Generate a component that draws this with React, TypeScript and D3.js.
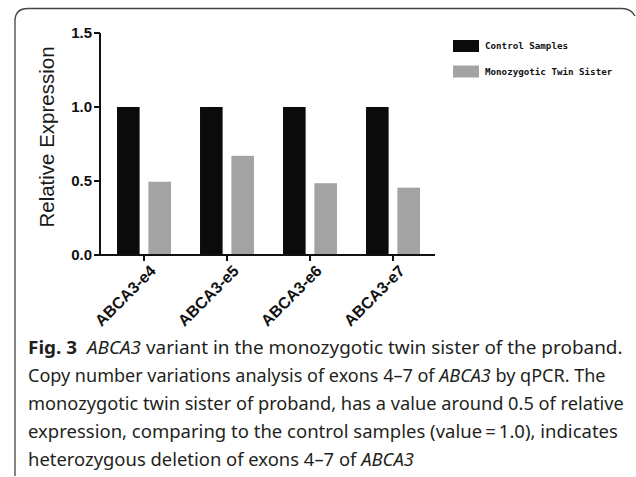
import React, { useLayoutEffect, useRef, useState } from "react";
import * as d3 from "d3";

const categories = ["ABCA3-e4", "ABCA3-e5", "ABCA3-e6", "ABCA3-e7"];
const seriesNames = ["Control Samples", "Monozygotic Twin Sister"];
const controlValues = [1.0, 1.0, 1.0, 1.0];
const twinValues = [0.495, 0.67, 0.485, 0.455];
const yTicks = [0.0, 0.5, 1.0, 1.5];
const colors = ["#0b0b0b", "#a3a3a3"];

const captionLines: { t: string; i?: boolean; b?: boolean }[][] = [
  [{ t: "Fig. 3", b: true }, { t: "  " }, { t: "ABCA3", i: true }, { t: " variant in the monozygotic twin sister of the proband." }],
  [{ t: "Copy number variations analysis of exons 4–7 of " }, { t: "ABCA3", i: true }, { t: " by qPCR. The" }],
  [{ t: "monozygotic twin sister of proband, has a value around 0.5 of relative" }],
  [{ t: "expression, comparing to the control samples (value\u2009=\u20091.0), indicates" }],
  [{ t: "heterozygous deletion of exons 4–7 of " }, { t: "ABCA3", i: true }],
];
const captionWidths = [595, 578, 596, 590, 0];

function Caption() {
  const refs = useRef<(SVGTextElement | null)[]>([]);
  const [scales, setScales] = useState<number[]>(captionLines.map(() => 1));
  useLayoutEffect(() => {
    const s = captionLines.map((_, k) => {
      const el = refs.current[k];
      if (!el || !captionWidths[k]) return 0;
      const w = el.getComputedTextLength();
      return w > 0 ? captionWidths[k] / w : 1;
    });
    const known = s.filter((v) => v > 0);
    const mean = known.length ? d3.mean(known) as number : 1;
    setScales(s.map((v) => (v > 0 ? v : mean)));
  }, []);
  return (
    <g>
      {captionLines.map((line, k) => (
        <g key={k} transform={`translate(28,${354 + k * 28}) scale(${scales[k]},1)`}>
          <text ref={(el) => { refs.current[k] = el; }} x={0} y={0} fontFamily="Noto Sans, Open Sans, sans-serif" fontSize={18.5} fill="#231f20" style={{ whiteSpace: "pre" }}>
            {line.map((seg, m) => (
              <tspan key={m} fontStyle={seg.i ? "italic" : "normal"} fontWeight={seg.b ? "bold" : "normal"}>
                {seg.t}
              </tspan>
            ))}
          </text>
        </g>
      ))}
    </g>
  );
}

export default function App() {
  const W = 636, H = 477;
  const x0 = d3.scaleBand<string>().domain(categories).range([102.5, 434.5]).paddingInner(0.35).paddingOuter(0.175);
  const x1 = d3.scaleBand<string>().domain(["c", "t"]).range([0, x0.bandwidth()]).paddingInner(0.28);
  const y = d3.scaleLinear().domain([0, 1.5]).range([255, 33]);
  const axisX = 100;
  const axisEnd = 435;
  const series = [controlValues, twinValues];

  return (
    <svg width={W} height={H} style={{ position: "absolute", left: 0, top: 0, background: "#fff" }}>
      <rect width={W} height={H} fill="#fff" />
      {/* frame */}
      <path d="M15,476 L15,21 Q15,8.5 28,8.5 L622,8.5 Q631,8.5 635,16" fill="none" stroke="#444" strokeWidth={1.3} />
      {/* bars */}
      {categories.map((c, i) => (
        <g key={c} transform={`translate(${x0(c)},0)`}>
          {series.map((s, j) => (
            <rect key={j} x={x1(j === 0 ? "c" : "t")} y={y(s[i])} width={x1.bandwidth()} height={y(0) - y(s[i])} fill={colors[j]} />
          ))}
        </g>
      ))}
      {/* y axis */}
      <line x1={axisX} x2={axisX} y1={y(1.5)} y2={y(0) + 1} stroke="#111" strokeWidth={2} />
      {yTicks.map((t) => (
        <g key={t}>
          <line x1={axisX - 6} x2={axisX} y1={y(t)} y2={y(t)} stroke="#111" strokeWidth={2} />
          <text x={axisX - 8} y={y(t)} dy="0.36em" textAnchor="end" fontFamily="Liberation Sans, Arial, sans-serif" fontWeight="bold" fontSize={15} fill="#111">
            {d3.format(".1f")(t)}
          </text>
        </g>
      ))}
      <text transform={`translate(54,${137}) rotate(-90)`} textAnchor="middle" fontFamily="Liberation Sans, Arial, sans-serif" fontSize={20.5} fill="#1a1a1a">
        Relative Expression
      </text>
      {/* x axis */}
      <line x1={axisX - 1} x2={axisEnd} y1={y(0)} y2={y(0)} stroke="#111" strokeWidth={2} />
      {categories.map((c) => {
        const cx = (x0(c) as number) + x0.bandwidth() / 2;
        return (
          <g key={c}>
            <line x1={cx} x2={cx} y1={y(0)} y2={y(0) + 6} stroke="#111" strokeWidth={2} />
            <text transform={`translate(${cx + 5},${y(0) + 9}) rotate(-45)`} textAnchor="end" dy="0.7em" fontFamily="Liberation Sans, Arial, sans-serif" fontWeight="bold" fontSize={16} fill="#111">
              {c}
            </text>
          </g>
        );
      })}
      {/* legend */}
      {seriesNames.map((n, j) => (
        <g key={n} transform={`translate(453,${40 + j * 25.5})`}>
          <rect x={0} y={0} width={26} height={12} fill={colors[j]} />
          <text x={32} y={6} dy="0.35em" fontFamily="DejaVu Sans Mono, Liberation Mono, monospace" fontWeight="bold" fontSize={9.2} fill="#111">
            {n}
          </text>
        </g>
      ))}
      <Caption />
    </svg>
  );
}
